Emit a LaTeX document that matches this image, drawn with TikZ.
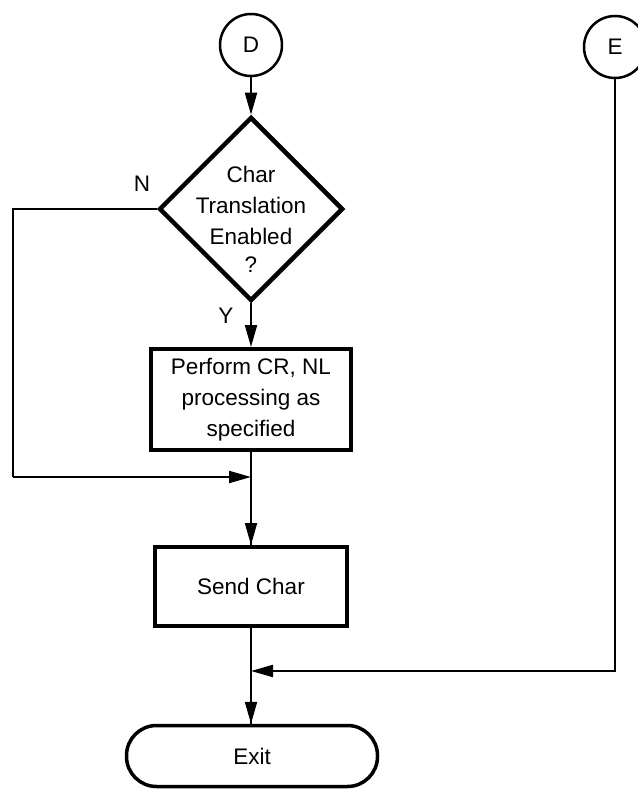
\documentclass[tikz,border=0pt]{standalone}
\usepackage{fontspec}
\setmainfont{Liberation Sans}
\usetikzlibrary{arrows.meta,shapes.geometric}
\begin{document}
\begin{tikzpicture}[x=1pt,y=-1pt,
  every node/.style={font=\fontsize{22.5}{31}\selectfont},
  conn/.style={line width=2pt},
  arr/.style={conn,-{Triangle[length=22pt,width=12pt]}},
  connector/.style={circle,draw,line width=2.5pt,minimum size=62pt,inner sep=0pt},
  decision/.style={diamond,draw,line width=4.5pt,minimum width=184pt,minimum height=184pt,inner sep=0pt},
  process/.style={rectangle,draw,line width=4pt,align=center,inner sep=0pt},
  terminal/.style={rectangle,draw,line width=3.5pt,rounded corners=30pt,inner sep=0pt},
  lbl/.style={inner sep=0pt}]
\useasboundingbox (0,0) rectangle (637,789);

% connectors in and out of the page
\node[connector] (D) at (251,45) {D};
\node[connector] (E) at (615,47) {E};

% decision
\node[decision] (dec) at (251,209) {};
\node[lbl,align=center] (dectext) at (251,205) {Char\\Translation\\Enabled};
\node[lbl] (q) at (251,265) {?};

% processes
\node[process,minimum width=200pt,minimum height=101pt] (proc) at (251,399.5)
  {Perform CR, NL\\processing as\\specified};
\node[process,minimum width=192pt,minimum height=79pt] (send) at (251,586.5) {Send Char};
\node[terminal,minimum width=251pt,minimum height=61pt] (exit) at (252,756) {Exit};

% branch labels
\node[lbl] (nlab) at (142,184) {N};
\node[lbl] (ylab) at (226,316) {Y};

% junction points
\coordinate (nl) at (13,209);
\coordinate (nb) at (13,477);
\coordinate (j1) at (251,477);
\coordinate (ec) at (614,671);
\coordinate (j2) at (251,671);

% flow
\draw[arr] (D) -- (dec.north);
\draw[arr] (dec.south) -- (proc.north);
\draw[conn] (proc.south) -- (send.north);
\draw[arr] (j1) ++(0,20) -- (send.north);
\draw[conn] (dec.west) -- (nl) -- (nb);
\draw[arr] (nb) -- (j1);
\draw[conn] (send.south) -- (send.south |- exit.north);
\draw[arr] (j2) ++(0,20) -- (j2 |- exit.north);
\draw[conn] (E) -- (E |- ec) -- (ec);
\draw[arr] (ec) -- (j2);
\end{tikzpicture}
\end{document}
